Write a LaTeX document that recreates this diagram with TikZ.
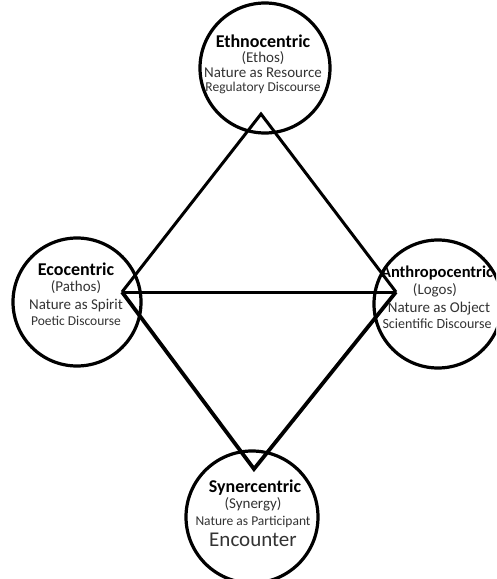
\documentclass[tikz,border=0pt]{standalone}
\usepackage{fontspec}
\setmainfont{Carlito}
\definecolor{inkgray}{HTML}{333333}
\begin{document}
\begin{tikzpicture}[x=1pt,y=-1pt,
  ring/.style={draw=black,line width=3.2pt,circle,minimum size=130pt,inner sep=0pt},
  edge/.style={draw=black,line width=3pt,line join=miter},
  heavyedge/.style={draw=black,line width=3.8pt,line join=miter},
  ttl/.style={anchor=base,inner sep=0pt,text=black,font=\fontsize{18}{18}\selectfont\bfseries},
  sub/.style={anchor=base,inner sep=0pt,text=inkgray,font=\fontsize{15}{15}\selectfont},
  small/.style={anchor=base,inner sep=0pt,text=inkgray,font=\fontsize{13.5}{13.5}\selectfont}]
\useasboundingbox (0,0) rectangle (496,579);
\clip (0,0) rectangle (496,579);
\fill[white] (0,0) rectangle (496,579);

% the four circles
\node[ring] (eth) at (265,68) {};
\node[ring,minimum size=128pt] (eco) at (77,302) {};
\node[ring,minimum size=128pt] (ant) at (438,304) {};
\node[ring,minimum size=132pt] (syn) at (252,517) {};

% corners of the diamond
\coordinate (T) at (261,114);
\coordinate (L) at (122,292);
\coordinate (R) at (396,292);
\coordinate (B) at (254,469);

\draw[edge] (L) -- (T) -- (R);
\draw[edge] (L) -- (R);
\draw[heavyedge] (L) -- (B) -- (R);

% Ethnocentric
\node[ttl]   (ethA) at (263,47) {Ethnocentric};
\node[sub]   (ethB) at (263,62) {(Ethos)};
\node[sub]   (ethC) at (263,77) {Nature as Resource};
\node[small] (ethD) at (263,91) {Regulatory Discourse};

% Ecocentric
\node[ttl]   (ecoA) at (76,275) {Ecocentric};
\node[sub]   (ecoB) at (76,291) {(Pathos)};
\node[sub]   (ecoC) at (76,309) {Nature as Spirit};
\node[small] (ecoD) at (76,325) {Poetic Discourse};

% Anthropocentric
\node[ttl,font=\fontsize{16.5}{16.5}\selectfont\bfseries] (antA) at (437,277) {Anthropocentric};
\node[sub]   (antB) at (435,294) {(Logos)};
\node[sub]   (antC) at (439,312) {Nature as Object};
\node[small,font=\fontsize{14}{14}\selectfont] (antD) at (437,328) {Scientific Discourse};

% Synercentric
\node[ttl]   (synA) at (255,492) {Synercentric};
\node[sub]   (synB) at (253,508) {(Synergy)};
\node[small] (synC) at (253,525) {Nature as Participant};
\node[sub,font=\fontsize{21}{21}\selectfont] (synD) at (253,546) {Encounter};
\end{tikzpicture}
\end{document}
